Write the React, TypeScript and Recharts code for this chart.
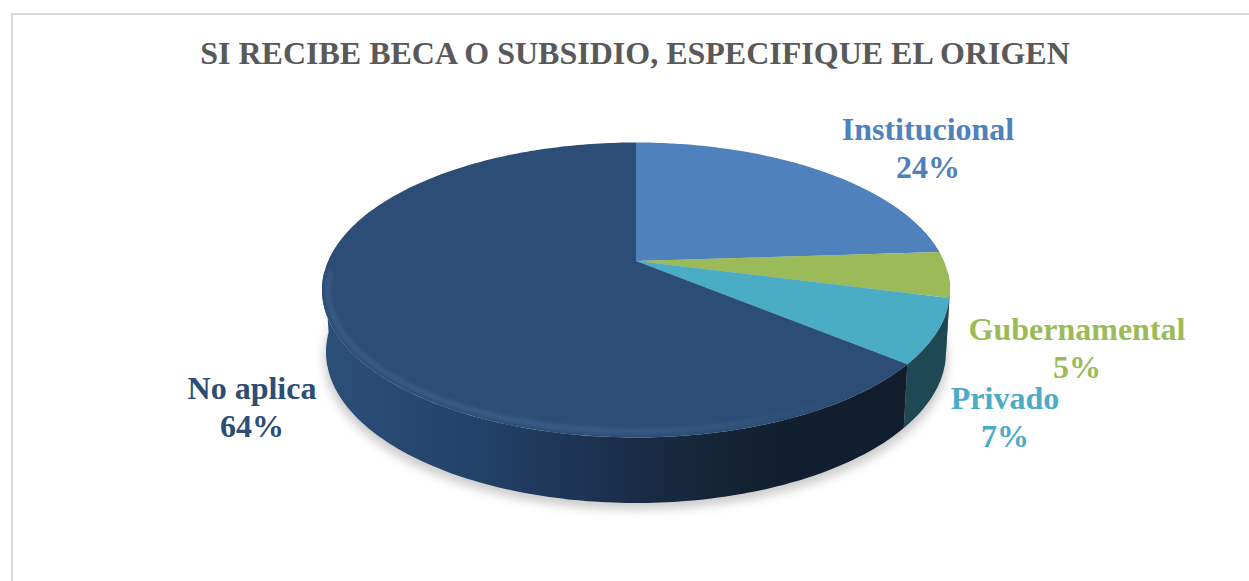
import { PieChart, Pie } from "recharts";

const categories = ["Institucional", "Gubernamental", "Privado", "No aplica"];
const shares = [24, 5, 7, 64];
const topColors = ["#4f81bd", "#9bbb59", "#4bacc6", "#2c4d75"];
const wallColors = ["#2f4d71", "#5d7035", "#1f4855", "url(#wallDark)"];
const labelAnchors = [
  { x: 928, y: 140 },
  { x: 1077, y: 340 },
  { x: 1005, y: 409 },
  { x: 252, y: 399 },
];

const data = categories.map((name, i) => ({ name, value: shares[i], fill: topColors[i] }));

const WIDTH = 1249;
const HEIGHT = 581;
const PIE_CX = 636;
const PIE_CY = 290;
const PIE_RADIUS = 314;

// the disc is tilted: a circle seen in perspective, so the middle sits above the ellipse centre
const SQUASH = 147.5 / 314;
const TILT = 0.197;
const BASE_RX = 310;
const BASE_CY = 352;
const BASE_RY = 151;
const WALL_FROM = 95;
const WALL_TO = 266;

function project(theta: number, cx: number, cy: number, rx: number, ry: number) {
  const rad = (theta * Math.PI) / 180;
  const u = Math.sin(rad);
  const v = Math.cos(rad);
  const d = 1 + TILT * v;
  const f = (v + TILT) / d;
  const g = Math.sqrt(1 - TILT * TILT) / d;
  return [cx + rx * u * g, cy - ry * f];
}

function arc(from: number, to: number, cx: number, cy: number, rx: number, ry: number) {
  const pts: string[] = [];
  const n = Math.max(2, Math.ceil(Math.abs(to - from)));
  for (let i = 0; i <= n; i++) {
    const [x, y] = project(from + ((to - from) * i) / n, cx, cy, rx, ry);
    pts.push(`${x.toFixed(1)} ${y.toFixed(1)}`);
  }
  return pts;
}

function DiscSlice(props: any) {
  const { cx, cy, outerRadius, startAngle, endAngle, fill, index } = props;
  const rx = outerRadius;
  const ry = rx * SQUASH;
  const t0 = 90 - startAngle;
  const t1 = 90 - endAngle;
  const w0 = Math.max(t0, WALL_FROM);
  const w1 = Math.min(t1, WALL_TO);
  const hasWall = w1 > w0;
  const topEdge = arc(t0, t1, cx, cy, rx, ry);
  const apexY = cy - ry * TILT;
  return (
    <g>
      {hasWall && (
        <path
          d={`M${arc(w0, w1, cx, cy, rx, ry).join("L")}L${arc(w1, w0, cx, BASE_CY, BASE_RX, BASE_RY).join("L")}Z`}
          fill={wallColors[index]}
        />
      )}
      <path d={`M${cx} ${apexY}L${topEdge.join("L")}Z`} fill={fill} />
      {hasWall && (
        <path
          d={`M${arc(w0, w1, cx, cy, rx - 6, ry - 6).join("L")}`}
          fill="none"
          stroke="url(#rimLight)"
          strokeWidth={3}
          filter="url(#soft)"
        />
      )}
    </g>
  );
}

function SliceLabel(props: any) {
  const { index, percent, name, fill } = props;
  const at = labelAnchors[index];
  return (
    <text
      x={at.x}
      y={at.y}
      textAnchor="middle"
      fill={topColors[index] ?? fill}
      fontFamily="'Liberation Serif', serif"
      fontWeight="bold"
      fontSize={32}
    >
      <tspan x={at.x}>{name}</tspan>
      <tspan x={at.x} dy={38}>{`${Math.round(percent * 100)}%`}</tspan>
    </text>
  );
}

export default function App() {
  return (
    <div style={{ position: "absolute", left: 0, top: 0, width: WIDTH, height: HEIGHT, background: "#fff", overflow: "hidden" }}>
      <div style={{ position: "absolute", left: 11, top: 13, right: -4, bottom: -4, borderLeft: "2px solid #d9d9d9", borderTop: "2px solid #d9d9d9" }} />
      <PieChart
        width={WIDTH}
        height={HEIGHT}
        margin={{ top: 0, right: 0, bottom: 0, left: 0 }}
        style={{ position: "absolute", left: 0, top: 0 }}
      >
        <defs>
          <linearGradient id="wallDark" gradientUnits="userSpaceOnUse" x1={325} y1={0} x2={905} y2={0}>
            <stop offset="0%" stopColor="#2c4f7a" />
            <stop offset="25%" stopColor="#24426a" />
            <stop offset="50%" stopColor="#1a2f4b" />
            <stop offset="75%" stopColor="#13202f" />
            <stop offset="100%" stopColor="#111d2d" />
          </linearGradient>
          <linearGradient id="rimLight" gradientUnits="userSpaceOnUse" x1={325} y1={0} x2={860} y2={0}>
            <stop offset="0%" stopColor="#6f9bd0" stopOpacity={0.3} />
            <stop offset="50%" stopColor="#6f9bd0" stopOpacity={0.35} />
            <stop offset="100%" stopColor="#6f9bd0" stopOpacity={0} />
          </linearGradient>
          <filter id="soft" x="-10%" y="-10%" width="120%" height="120%">
            <feGaussianBlur stdDeviation={2} />
          </filter>
          <filter id="shadowBlur" x="-10%" y="-10%" width="120%" height="120%">
            <feGaussianBlur stdDeviation={5} />
          </filter>
        </defs>
        <text
          x={635}
          y={64}
          textAnchor="middle"
          fill="#595959"
          fontFamily="'Liberation Serif', serif"
          fontWeight="bold"
          fontSize={32}
        >
          SI RECIBE BECA O SUBSIDIO, ESPECIFIQUE EL ORIGEN
        </text>
        <ellipse cx={PIE_CX} cy={BASE_CY + 7} rx={BASE_RX + 2} ry={BASE_RY} fill="#a6a6a6" opacity={0.55} filter="url(#shadowBlur)" />
        <Pie
          data={data}
          dataKey="value"
          nameKey="name"
          cx={PIE_CX}
          cy={PIE_CY}
          outerRadius={PIE_RADIUS}
          startAngle={90}
          endAngle={-270}
          stroke="none"
          shape={DiscSlice}
          label={SliceLabel}
          labelLine={false}
          isAnimationActive={false}
        />
      </PieChart>
    </div>
  );
}
